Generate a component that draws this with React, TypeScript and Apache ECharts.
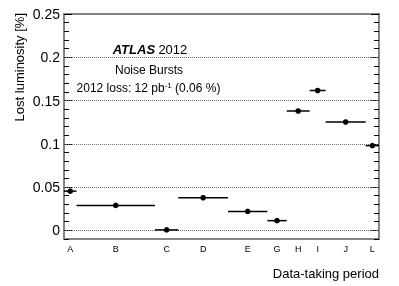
import React, { useEffect, useRef } from "react";
import * as echarts from "echarts";

// Data-taking periods and their extent in integrated luminosity (fb^-1)
const periods = ["A", "B", "C", "D", "E", "G", "H", "I", "J", "L"];
const boundaries = [0, 0.845, 6.15, 7.73, 11.09, 13.75, 15.06, 16.61, 17.69, 20.4, 21.3];
// Lost luminosity [%] due to noise bursts
const lostLumi = [0.0453, 0.0288, 0.0005, 0.0377, 0.0219, 0.0112, 0.1379, 0.1616, 0.1252, 0.0979];
// y-axis ticks
const yTicks = [0, 0.05, 0.1, 0.15, 0.2, 0.25];
const yTickLabels = ["0", "0.05", "0.1", "0.15", "0.2", "0.25"];
const gridValues = [0, 0.05, 0.1, 0.15, 0.2];

const FONT = "'Liberation Sans', Arial, Helvetica, sans-serif";

export default function App() {
  const ref = useRef<HTMLDivElement>(null);
  useEffect(() => {
    if (!ref.current) return;
    const chart = echarts.init(ref.current, undefined, { renderer: "svg" });
    const mids = periods.map((_, i) => (boundaries[i] + boundaries[i + 1]) / 2);
    const data = periods.map((_, i) => [boundaries[i], boundaries[i + 1], lostLumi[i]]);
    const closest = (arr: number[], v: number) => {
      let best = 0;
      arr.forEach((a, i) => {
        if (Math.abs(a - v) < Math.abs(arr[best] - v)) best = i;
      });
      return best;
    };
    const yBase: any = {
      type: "value",
      min: -0.01,
      max: 0.25,
      splitLine: { show: false },
      axisLine: { show: false },
    };
    chart.setOption({
      animation: false,
      textStyle: { fontFamily: FONT },
      grid: {
        left: 64,
        right: 20,
        top: 14,
        bottom: 47,
        show: true,
        borderColor: "#858585",
        borderWidth: 2,
        backgroundColor: "transparent",
      },
      xAxis: {
        type: "value",
        min: 0,
        max: 21.3,
        axisLine: { show: false },
        axisTick: { show: false },
        splitLine: { show: false },
        axisLabel: {
          customValues: mids,
          formatter: (v: number) => periods[closest(mids, v)],
          fontSize: 9,
          color: "#000",
          margin: 5,
          fontFamily: FONT,
        },
      },
      yAxis: [
        {
          ...yBase,
          position: "left",
          axisTick: {
            show: true,
            inside: true,
            length: 8,
            customValues: yTicks,
            lineStyle: { color: "#000", width: 1 },
          },
          axisLabel: {
            customValues: yTicks,
            formatter: (v: number) => yTickLabels[closest(yTicks, v)],
            fontSize: 14,
            color: "#000",
            margin: 4,
            fontFamily: FONT,
          },
        },
        {
          ...yBase,
          position: "left",
          interval: 0.01,
          axisTick: { show: true, inside: true, length: 5, lineStyle: { color: "#000", width: 1 } },
          axisLabel: { show: false },
        },
        {
          ...yBase,
          position: "right",
          axisTick: {
            show: true,
            inside: true,
            length: 8,
            customValues: yTicks,
            lineStyle: { color: "#000", width: 1 },
          },
          axisLabel: { show: false },
        },
        {
          ...yBase,
          position: "right",
          interval: 0.01,
          axisTick: { show: true, inside: true, length: 5, lineStyle: { color: "#000", width: 1 } },
          axisLabel: { show: false },
        },
      ],
      series: [
        {
          type: "custom",
          xAxisIndex: 0,
          yAxisIndex: 0,
          data,
          encode: { x: [0, 1], y: 2 },
          clip: true,
          renderItem: (params: any, api: any) => {
            const lo = api.coord([api.value(0), api.value(2)]);
            const hi = api.coord([api.value(1), api.value(2)]);
            const mid = api.coord([(api.value(0) + api.value(1)) / 2, api.value(2)]);
            return {
              type: "group",
              children: [
                {
                  type: "line",
                  shape: { x1: lo[0], y1: lo[1], x2: hi[0], y2: hi[1] },
                  style: { stroke: "#000", lineWidth: 1.5 },
                },
                {
                  type: "circle",
                  shape: { cx: mid[0], cy: mid[1], r: 2.8 },
                  style: { fill: "#000" },
                },
              ],
            };
          },
          markLine: {
            silent: true,
            symbol: "none",
            label: { show: false },
            lineStyle: { color: "#6a6a6a", type: [1, 1], width: 1 },
            data: gridValues.map((v) => ({ yAxis: v })),
          },
          z: 5,
        },
      ],
      graphic: [
        {
          type: "text",
          x: 150,
          y: 49,
          style: {
            text: "{a|ATLAS} {b|2012}",
            align: "center",
            verticalAlign: "middle",
            rich: {
              a: { fontSize: 13, fontWeight: "bold", fontStyle: "italic", fontFamily: FONT, fill: "#000" },
              b: { fontSize: 13, fontFamily: FONT, fill: "#000" },
            },
          },
        },
        {
          type: "text",
          x: 149,
          y: 70,
          style: {
            text: "Noise Bursts",
            align: "center",
            verticalAlign: "middle",
            fontSize: 12,
            fontFamily: FONT,
            fill: "#000",
          },
        },
        {
          type: "text",
          x: 148.5,
          y: 88,
          style: {
            text: "{n|2012 loss: 12 pb}{s|-1}{n| (0.06 %)}",
            align: "center",
            verticalAlign: "middle",
            rich: {
              n: { fontSize: 12, fontFamily: FONT, fill: "#000", lineHeight: 14 },
              s: { fontSize: 8, fontFamily: FONT, fill: "#000", verticalAlign: "top", lineHeight: 8 },
            },
          },
        },
        {
          type: "text",
          x: 19,
          y: 13,
          rotation: Math.PI / 2,
          style: {
            text: "Lost luminosity [%]",
            align: "right",
            verticalAlign: "middle",
            fontSize: 13,
            fontFamily: FONT,
            fill: "#000",
          },
        },
        {
          type: "text",
          x: 379,
          y: 273,
          style: {
            text: "Data-taking period",
            align: "right",
            verticalAlign: "middle",
            fontSize: 13,
            fontFamily: FONT,
            fill: "#000",
          },
        },
      ],
    });
    return () => chart.dispose();
  }, []);
  return (
    <div
      ref={ref}
      style={{ position: "fixed", left: 0, top: 0, width: 399, height: 286 }}
    />
  );
}
